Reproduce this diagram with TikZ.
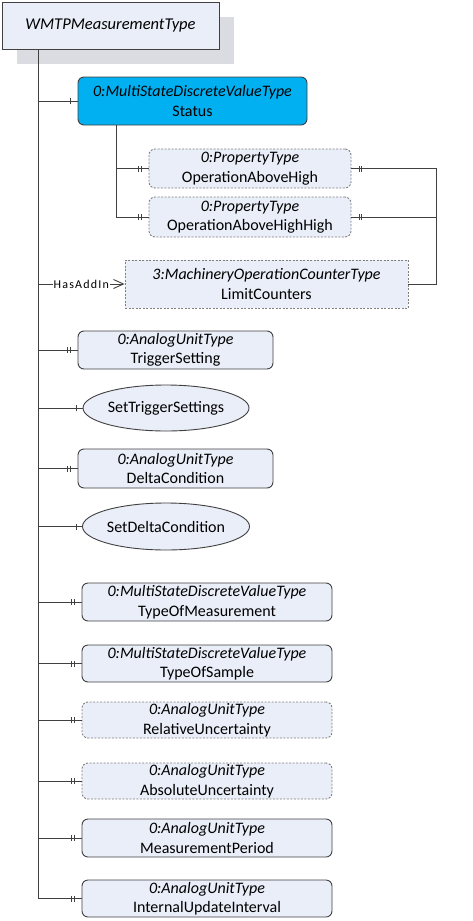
\documentclass[tikz,border=0pt]{standalone}
\usepackage{fontspec}
\setmainfont{Carlito}
\usetikzlibrary{arrows.meta,decorations.markings,shapes.geometric}
\definecolor{boxfill}{HTML}{E9EEF8}
\definecolor{boxline}{HTML}{404040}
\definecolor{statusfill}{HTML}{00B0F0}
\definecolor{shadowc}{HTML}{DADCE1}
\tikzset{
  base/.style={draw=boxline, fill=boxfill, line width=0.9pt, align=center, inner sep=0pt, font=\fontsize{16}{19.5}\selectfont},
  rbox/.style={base, rounded corners=6pt},
  dbox/.style={base, rounded corners=6pt, dashed, draw=gray, dash pattern=on 2pt off 1.5pt},
  sbox/.style={base, dashed, draw=gray, dash pattern=on 2pt off 1.5pt},
  ell/.style={base, ellipse},
  conn/.style={draw=boxline, line width=0.9pt},
  dtick/.style={postaction={decorate}, decoration={markings,
     mark=at position #1 with {\draw[boxline, line width=0.8pt] (0,-3pt)--(0,3pt); \draw[boxline, line width=0.8pt] (2.6pt,-3pt)--(2.6pt,3pt);}}},
  stick/.style={postaction={decorate}, decoration={markings,
     mark=at position #1 with {\draw[boxline, line width=0.8pt] (0,-3pt)--(0,3pt);}}},
  lbl/.style={fill=white, inner sep=1pt, font=\fontsize{12}{14}\selectfont\addfontfeature{LetterSpace=10}}
}
\begin{document}
\begin{tikzpicture}[x=1pt,y=-1pt]
\useasboundingbox (0,0) rectangle (472,921);
% shadow + main
\fill[shadowc] (17,17) rectangle (234,64);
\node[base, minimum width=217pt, minimum height=47pt, font=\fontsize{16.5}{19}\selectfont\itshape] (main) at (110.5,25.5) {WMTPMeasurementType};
\coordinate (tTop) at (38,49);
\coordinate (tBot) at (38,899);
\draw[conn] (tTop) -- (tBot);
% Status
\node[rbox, fill=statusfill, minimum width=229pt, minimum height=48pt] (status) at (192.5,101) {\textit{0:MultiStateDiscreteValueType}\\Status};
\draw[conn, stick=-7pt] (tTop |- status.west) -- (status.west);
% children of status
\node[dbox, minimum width=202pt, minimum height=39pt] (oah) at (250,168.5) {\textit{0:PropertyType}\\OperationAboveHigh};
\node[dbox, minimum width=202pt, minimum height=40pt] (oahh) at (250,217) {\textit{0:PropertyType}\\OperationAboveHighHigh};
\coordinate (sTop) at (116,125);
\draw[conn] (sTop) -- (sTop |- oahh.west);
\draw[conn, dtick=-10pt] (sTop |- oah.west) -- (oah.west);
\draw[conn, dtick=-10pt] (sTop |- oahh.west) -- (oahh.west);
% LimitCounters
\node[sbox, minimum width=283pt, minimum height=48pt] (lc) at (266.5,284) {\textit{3:MachineryOperationCounterType}\\LimitCounters};
\coordinate (rX) at (436,0);
\draw[conn, dtick=7.5pt] (oah.east) -- (rX |- oah.east) |- (lc.east);
\draw[conn, dtick=7.5pt] (oahh.east) -- (rX |- oahh.east);
\draw[conn, -{Straight Barb[length=10pt,width=9pt,line width=0.9pt]}] (tTop |- lc.west) -- node[lbl, text=black] {HasAddIn} (lc.west);
% rest
\node[rbox, minimum width=195pt, minimum height=38pt] (ts) at (175.5,350) {\textit{0:AnalogUnitType}\\TriggerSetting};
\node[ell, minimum width=166pt, minimum height=46pt] (sts) at (166,408) {SetTriggerSettings};
\node[rbox, minimum width=195pt, minimum height=39pt] (dc) at (175.5,468.5) {\textit{0:AnalogUnitType}\\DeltaCondition};
\node[ell, minimum width=166pt, minimum height=47pt] (sdc) at (166,526.5) {SetDeltaCondition};
\node[rbox, minimum width=250pt, minimum height=38pt] (tom) at (207,602) {\textit{0:MultiStateDiscreteValueType}\\TypeOfMeasurement};
\node[rbox, minimum width=250pt, minimum height=37pt] (tos) at (207,663.5) {\textit{0:MultiStateDiscreteValueType}\\TypeOfSample};
\node[dbox, minimum width=250pt, minimum height=36pt] (ru) at (207,720) {\textit{0:AnalogUnitType}\\RelativeUncertainty};
\node[dbox, minimum width=250pt, minimum height=36pt] (au) at (207,781) {\textit{0:AnalogUnitType}\\AbsoluteUncertainty};
\node[rbox, minimum width=250pt, minimum height=38pt] (mp) at (207,838) {\textit{0:AnalogUnitType}\\MeasurementPeriod};
\node[rbox, minimum width=250pt, minimum height=37pt] (iui) at (207,898.5) {\textit{0:AnalogUnitType}\\InternalUpdateInterval};
\foreach \n in {ts,dc,tom,tos,ru,au,mp,iui}{
  \draw[conn, dtick=-10pt] (tTop |- \n.west) -- (\n.west);
}
\draw[conn, stick=-6pt] (tTop |- sts.west) -- (sts.west);
\draw[conn, stick=-6pt] (tTop |- sdc.west) -- (sdc.west);
\end{tikzpicture}
\end{document}
